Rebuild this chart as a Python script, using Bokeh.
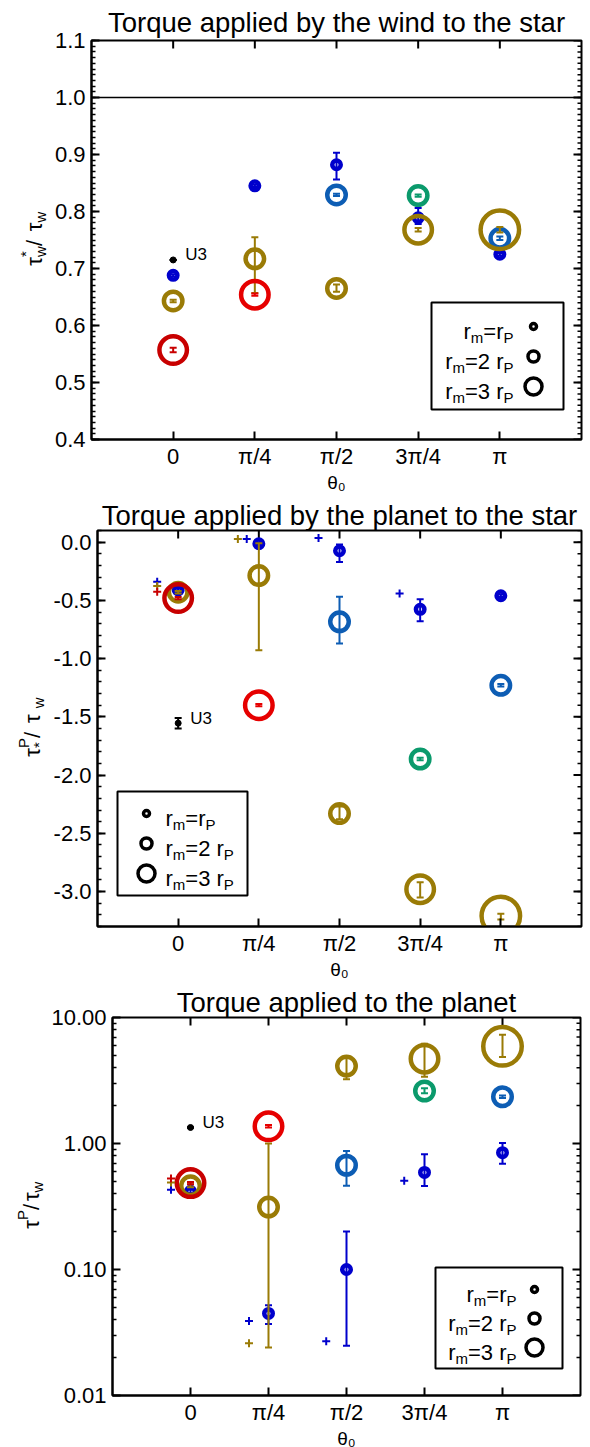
import math
from bokeh.plotting import figure
from bokeh.layouts import row
from bokeh.models import (Range1d, FixedTicker, Label, Span, BoxAnnotation, ColumnDataSource)
from bokeh.core.properties import value
from bokeh.embed import file_html
from bokeh.resources import INLINE

PI = math.pi
FONT = "Liberation Sans"

# ---------------------------------------------------------------- data
THETA_STEPS = [0, 1, 2, 3, 4]                 # theta_0 in units of pi/4
THETA_LABELS = ["0", "π/4", "π/2", "3π/4", "π"]
X_LABEL = "θ₀"

# Panel 1 : torque applied by the wind to the star  (tau_w* / tau_w)
WIND_TITLE = "Torque applied by the wind to the star"
WIND_YTICKS = [0.4, 0.5, 0.6, 0.7, 0.8, 0.9, 1.0, 1.1]
WIND_YLABELS = ["0.4", "0.5", "0.6", "0.7", "0.8", "0.9", "1.0", "1.1"]
WIND_REF = 1.0
WIND_DBLUE_K = [0, 1, 2, 3, 4]
WIND_DBLUE_Y = [0.688, 0.845, 0.882, 0.789, 0.725]
WIND_DBLUE_LO = [0.686, 0.843, 0.856, 0.778, 0.723]
WIND_DBLUE_HI = [0.690, 0.847, 0.903, 0.806, 0.727]
WIND_MBLUE_K = [2, 4]
WIND_MBLUE_Y = [0.829, 0.753]
WIND_MBLUE_LO = [0.827, 0.750]
WIND_MBLUE_HI = [0.831, 0.756]
WIND_GREEN_K = [3]
WIND_GREEN_Y = [0.828]
WIND_GREEN_LO = [0.826]
WIND_GREEN_HI = [0.830]
WIND_OLIVE2_K = [0, 1, 2]
WIND_OLIVE2_Y = [0.643, 0.717, 0.665]
WIND_OLIVE2_LO = [0.641, 0.657, 0.659]
WIND_OLIVE2_HI = [0.645, 0.755, 0.672]
WIND_OLIVE3_K = [3]
WIND_OLIVE3_Y = [0.768]
WIND_OLIVE3_LO = [0.765]
WIND_OLIVE3_HI = [0.771]
WIND_OLIVE4_K = [4]
WIND_OLIVE4_Y = [0.768]
WIND_OLIVE4_LO = [0.763]
WIND_OLIVE4_HI = [0.773]
WIND_DRED_K = [0]
WIND_DRED_Y = [0.557]
WIND_DRED_LO = [0.553]
WIND_DRED_HI = [0.561]
WIND_RED_K = [1]
WIND_RED_Y = [0.654]
WIND_RED_LO = [0.652]
WIND_RED_HI = [0.656]
WIND_U3_K = [0]
WIND_U3_Y = [0.715]
WIND_U3_LO = [0.715]
WIND_U3_HI = [0.715]

# Panel 2 : torque applied by the planet to the star  (tau*^P / tau_w)
STAR_TITLE = "Torque applied by the planet to the star"
STAR_YTICKS = [0.0, -0.5, -1.0, -1.5, -2.0, -2.5, -3.0]
STAR_YLABELS = ["0.0", "-0.5", "-1.0", "-1.5", "-2.0", "-2.5", "-3.0"]
STAR_DBLUE_K = [0, 1, 2, 3, 4]
STAR_DBLUE_Y = [-0.41, -0.014, -0.074, -0.577, -0.46]
STAR_DBLUE_LO = [-0.42, -0.024, -0.17, -0.68, -0.47]
STAR_DBLUE_HI = [-0.40, -0.004, -0.02, -0.49, -0.45]
STAR_MBLUE_K = [2, 4]
STAR_MBLUE_Y = [-0.684, -1.229]
STAR_MBLUE_LO = [-0.87, -1.24]
STAR_MBLUE_HI = [-0.468, -1.218]
STAR_GREEN_K = [3]
STAR_GREEN_Y = [-1.862]
STAR_GREEN_LO = [-1.872]
STAR_GREEN_HI = [-1.852]
STAR_OLIVE2_K = [0, 1, 2]
STAR_OLIVE2_Y = [-0.43, -0.287, -2.33]
STAR_OLIVE2_LO = [-0.44, -0.928, -2.38]
STAR_OLIVE2_HI = [-0.42, -0.01, -2.27]
STAR_OLIVE3_K = [3]
STAR_OLIVE3_Y = [-2.98]
STAR_OLIVE3_LO = [-3.05]
STAR_OLIVE3_HI = [-2.92]
STAR_OLIVE4_K = [4]
STAR_OLIVE4_Y = [-3.21]
STAR_OLIVE4_LO = [-3.24]
STAR_OLIVE4_HI = [-3.19]
STAR_DRED_K = [0]
STAR_DRED_Y = [-0.48]
STAR_DRED_LO = [-0.49]
STAR_DRED_HI = [-0.47]
STAR_RED_K = [1]
STAR_RED_Y = [-1.40]
STAR_RED_LO = [-1.41]
STAR_RED_HI = [-1.39]
STAR_U3_K = [0]
STAR_U3_Y = [-1.554]
STAR_U3_LO = [-1.60]
STAR_U3_HI = [-1.51]
# runs drawn without a circle (theta in units of pi/4)
STAR_XB_K = [-0.26, 0.85, 1.74, 2.745]
STAR_XB_Y = [-0.34, 0.026, 0.035, -0.44]
STAR_XO_K = [-0.26, 0.74]
STAR_XO_Y = [-0.376, 0.026]
STAR_XR_K = [-0.26]
STAR_XR_Y = [-0.425]

# Panel 3 : torque applied to the planet  (tau^P / tau_w, log)
PLAN_TITLE = "Torque applied to the planet"
PLAN_YTICKS = [0.01, 0.1, 1.0, 10.0]
PLAN_YLABELS = ["0.01", "0.10", "1.00", "10.00"]
PLAN_DBLUE_K = [0, 1, 2, 3, 4]
PLAN_DBLUE_Y = [0.417, 0.0448, 0.10, 0.589, 0.845]
PLAN_DBLUE_LO = [0.405, 0.037, 0.0248, 0.46, 0.69]
PLAN_DBLUE_HI = [0.43, 0.052, 0.20, 0.82, 1.01]
PLAN_MBLUE_K = [2, 4]
PLAN_MBLUE_Y = [0.672, 2.35]
PLAN_MBLUE_LO = [0.462, 2.30]
PLAN_MBLUE_HI = [0.87, 2.40]
PLAN_GREEN_K = [3]
PLAN_GREEN_Y = [2.61]
PLAN_GREEN_LO = [2.50]
PLAN_GREEN_HI = [2.75]
PLAN_OLIVE2_K = [0, 1, 2]
PLAN_OLIVE2_Y = [0.462, 0.313, 4.12]
PLAN_OLIVE2_LO = [0.45, 0.024, 3.24]
PLAN_OLIVE2_HI = [0.475, 1.0, 4.84]
PLAN_OLIVE3_K = [3]
PLAN_OLIVE3_Y = [4.71]
PLAN_OLIVE3_LO = [3.38]
PLAN_OLIVE3_HI = [6.18]
PLAN_OLIVE4_K = [4]
PLAN_OLIVE4_Y = [5.9]
PLAN_OLIVE4_LO = [4.85]
PLAN_OLIVE4_HI = [7.3]
PLAN_DRED_K = [0]
PLAN_DRED_Y = [0.485]
PLAN_DRED_LO = [0.475]
PLAN_DRED_HI = [0.495]
PLAN_RED_K = [1]
PLAN_RED_Y = [1.37]
PLAN_RED_LO = [1.34]
PLAN_RED_HI = [1.40]
PLAN_U3_K = [0]
PLAN_U3_Y = [1.34]
PLAN_U3_LO = [1.34]
PLAN_U3_HI = [1.34]
PLAN_XB_K = [-0.25, 0.75, 1.74, 2.74]
PLAN_XB_Y = [0.43, 0.039, 0.027, 0.506]
PLAN_XO_K = [-0.25, 0.75]
PLAN_XO_Y = [0.49, 0.026]
PLAN_XR_K = [-0.25]
PLAN_XR_Y = [0.528]

# ---------------------------------------------------------------- styles
COLORS = {"dblue": "#0000CC", "mblue": "#0D5DB4", "green": "#0B9A6C",
          "olive": "#9A7B06", "dred": "#C80000", "red": "#E60000", "black": "#000000"}
RING = {"s": 8.5, "m": 18.5, "l": 27.5, "xl": 38.5}
RING_LW = 4.5
LEG_RING = [6, 11, 17]
LEGEND_ROWS = [[("r", "n"), ("m", "sub"), ("=r", "n"), ("P", "sub")],
               [("r", "n"), ("m", "sub"), ("=2 r", "n"), ("P", "sub")],
               [("r", "n"), ("m", "sub"), ("=3 r", "n"), ("P", "sub")]]

EM = {'r': .333, 'm': .833, '=': .584, 'P': .667, '2': .556, '3': .556, ' ': .278,
      'τ': .52, 'w': .722, '/': .278, '*': .389, 'θ': .556, '0': .556}
MAIN = 22
SUB = 15
TITLE_SIZE = "27.5px"


def tw(s, size):
    return sum(EM.get(c, .55) for c in s) * size


class Frame:
    def __init__(self, fw, fh, xr, yr, log):
        self.fw, self.fh, self.xr, self.yr, self.log = fw, fh, xr, yr, log

    def dx(self, px):
        return self.xr[0] + px / self.fw * (self.xr[1] - self.xr[0])

    def dy(self, py):
        if self.log:
            a, b = math.log10(self.yr[0]), math.log10(self.yr[1])
            return 10 ** (b - py / self.fh * (b - a))
        return self.yr[1] - py / self.fh * (self.yr[1] - self.yr[0])

    def px(self, x):
        return (x - self.xr[0]) / (self.xr[1] - self.xr[0]) * self.fw

    def py(self, y):
        if self.log:
            a, b = math.log10(self.yr[0]), math.log10(self.yr[1])
            return (b - math.log10(y)) / (b - a) * self.fh
        return (self.yr[1] - y) / (self.yr[1] - self.yr[0]) * self.fh


def lab(p, fr, px, py, text, size, align="left", baseline="alphabetic"):
    """Text inside the frame, in pixels relative to the frame (px right, py down)."""
    p.add_layout(Label(x=px, y=fr.fh - py, x_units="screen", y_units="screen", text=text,
                       text_font=FONT, text_font_size=f"{size}px",
                       text_align=align, text_baseline=baseline, text_color="black"))


def rich_h(p, fr, px, py, pieces):
    cur = 0.0
    for text, kind in pieces:
        size = MAIN if kind == "n" else SUB
        shift = 0 if kind == "n" else (6 if kind == "sub" else -9)
        lab(p, fr, px + cur, py + shift, text, size)
        cur += tw(text, size)


def rich_width(pieces):
    return sum(tw(t, MAIN if k == "n" else SUB) for t, k in pieces)


def ylabel_strip(width, fh, top, bottom, bx, pieces):
    """Narrow figure left of a panel carrying its rotated y-axis title
    (pieces anchored at their end so that they read bottom-to-top)."""
    s = figure(frame_width=width, frame_height=fh, x_range=Range1d(0, width),
               y_range=Range1d(0, fh), output_backend="svg", toolbar_location=None,
               x_axis_location=None, y_axis_location=None, min_border_left=0,
               min_border_right=0, min_border_top=top, min_border_bottom=bottom)
    s.grid.visible = False
    s.outline_line_color = None
    total = 0.0
    adv_w = 0.0
    for text, kind, adv in pieces:
        adv_w = max(adv_w, tw(text, MAIN if kind == "n" else SUB))
        if adv:
            total += adv_w
            adv_w = 0.0
    xs, ys, ts, szs = [], [], [], []
    cur = fh / 2 - total / 2
    adv_w = 0.0
    for text, kind, adv in pieces:
        size = MAIN if kind == "n" else SUB
        shift = 0 if kind == "n" else (6 if kind == "sub" else -9)
        w = tw(text, size)
        xs.append(bx + shift)
        ys.append(cur + w)
        ts.append(text)
        szs.append(f"{size}px")
        adv_w = max(adv_w, w)
        if adv:
            cur += adv_w
            adv_w = 0.0
    src = ColumnDataSource(dict(x=xs, y=ys, t=ts, fs=szs))
    s.text(x="x", y="y", text="t", source=src, angle=PI / 2, text_font=value(FONT),
           text_font_size="fs", text_align="right", text_baseline="alphabetic",
           text_color="black")
    return s


def style_axis(ax, standoff):
    ax.axis_line_width = 2
    ax.axis_line_color = "black"
    ax.major_tick_in = 8
    ax.major_tick_out = 0
    ax.minor_tick_in = 4
    ax.minor_tick_out = 0
    ax.major_tick_line_width = 2
    ax.minor_tick_line_width = 1.5
    ax.major_label_text_font = FONT
    ax.major_label_text_color = "black"
    ax.major_label_text_font_size = f"{MAIN}px"
    ax.major_label_standoff = standoff


def build(title, fw, fh, yr, log, left, top, bottom, standoff, yticks, ylabels, yminor):
    xr = (-PI / 4, 5 * PI / 4)
    p = figure(frame_width=fw, frame_height=fh, x_range=Range1d(*xr), y_range=Range1d(*yr),
               y_axis_type="log" if log else "linear", output_backend="svg",
               toolbar_location=None, min_border_left=left, min_border_right=4,
               min_border_top=top, min_border_bottom=bottom)
    p.title.text = title
    p.title.text_font = FONT
    p.title.text_font_size = TITLE_SIZE
    p.title.text_font_style = "normal"
    p.title.text_color = "black"
    p.title.align = "center"
    p.title.standoff = standoff
    p.grid.visible = False
    p.outline_line_color = "black"
    p.outline_line_width = 2
    p.outline_line_alpha = 1.0
    xt = [k * PI / 4 for k in THETA_STEPS]
    xticker = FixedTicker(ticks=xt, minor_ticks=[])
    yticker = FixedTicker(ticks=yticks, minor_ticks=yminor)
    for ax in p.xaxis:
        ax.ticker = xticker
        ax.major_label_overrides = {t: l for t, l in zip(xt, THETA_LABELS)}
        style_axis(ax, 4)
        ax.axis_label = X_LABEL
        ax.axis_label_text_font = FONT
        ax.axis_label_text_font_size = "19px"
        ax.axis_label_text_font_style = "normal"
        ax.axis_label_text_color = "black"
        ax.axis_label_standoff = 0
    for ax in p.yaxis:
        ax.ticker = yticker
        ax.major_label_overrides = {t: l for t, l in zip(yticks, ylabels)}
        style_axis(ax, 6)
    fr = Frame(fw, fh, xr, yr, log)
    # mirrored inward ticks on the top and right edges of the frame
    n = len(xt)
    p.segment(x0=xt, y0=[yr[1]] * n, x1=xt, y1=[fr.dy(8)] * n, line_color="black", line_width=2)
    m = len(yticks)
    p.segment(x0=[xr[1]] * m, y0=yticks, x1=[fr.dx(fw - 8)] * m, y1=yticks,
              line_color="black", line_width=2)
    q = len(yminor)
    p.segment(x0=[xr[1]] * q, y0=yminor, x1=[fr.dx(fw - 4)] * q, y1=yminor,
              line_color="black", line_width=1.5)
    return p, fr


def draw_series(p, K, Y, LO, HI, cname, cls):
    c = COLORS[cname]
    x = [k * PI / 4 for k in K]
    src = ColumnDataSource(dict(x=x, y=Y, lo=LO, hi=HI))
    p.segment(x0="x", y0="lo", x1="x", y1="hi", source=src, line_color=c, line_width=2)
    p.scatter("x", "lo", source=src, marker="dash", size=7, line_color=c, line_width=2)
    p.scatter("x", "hi", source=src, marker="dash", size=7, line_color=c, line_width=2)
    if cls == "dot":
        p.scatter("x", "y", source=src, marker="circle", size=6, fill_color=c, line_color=c)
    else:
        p.scatter("x", "y", source=src, marker="circle", size=RING[cls], fill_color=None,
                  line_color=c, line_width=RING_LW)


def draw_ticks(p, K, Y, cname):
    x = [k * PI / 4 for k in K]
    p.scatter(x=x, y=Y, marker="cross", size=8, line_color=COLORS[cname], line_width=2)


def u3_label(p, fr, K, Y):
    lab(p, fr, fr.px(K[0] * PI / 4) + 12, fr.py(Y[0]) - 5, "U3", 17, baseline="middle")


def legend(p, fr, box, mx, rows, tx, right_aligned):
    p.add_layout(BoxAnnotation(left=fr.dx(box[0]), right=fr.dx(box[1]),
                               top=fr.dy(box[2]), bottom=fr.dy(box[3]),
                               fill_color=None, fill_alpha=0, line_color="black",
                               line_alpha=1.0, line_width=2))
    p.scatter(x=[fr.dx(mx)] * 3, y=[fr.dy(r) for r in rows], size=LEG_RING, marker="circle",
              fill_color=None, line_color="black", line_width=3.5)
    for ry, pieces in zip(rows, LEGEND_ROWS):
        start = tx - rich_width(pieces) if right_aligned else tx
        rich_h(p, fr, start, ry + 5, pieces)


# ---------------------------------------------------------------- panel 1
wind_minor = [round(0.4 + i * 0.01, 3) for i in range(71)]
p1, f1 = build(WIND_TITLE, 490, 399, (0.4, 1.1), False, 37, 40, 54, 5,
               WIND_YTICKS, WIND_YLABELS, wind_minor)
p1.add_layout(Span(location=WIND_REF, dimension="width", line_color="black", line_width=1.5))
for args in [(WIND_DBLUE_K, WIND_DBLUE_Y, WIND_DBLUE_LO, WIND_DBLUE_HI, "dblue", "s"),
             (WIND_MBLUE_K, WIND_MBLUE_Y, WIND_MBLUE_LO, WIND_MBLUE_HI, "mblue", "m"),
             (WIND_GREEN_K, WIND_GREEN_Y, WIND_GREEN_LO, WIND_GREEN_HI, "green", "m"),
             (WIND_OLIVE2_K, WIND_OLIVE2_Y, WIND_OLIVE2_LO, WIND_OLIVE2_HI, "olive", "m"),
             (WIND_OLIVE3_K, WIND_OLIVE3_Y, WIND_OLIVE3_LO, WIND_OLIVE3_HI, "olive", "l"),
             (WIND_OLIVE4_K, WIND_OLIVE4_Y, WIND_OLIVE4_LO, WIND_OLIVE4_HI, "olive", "xl"),
             (WIND_DRED_K, WIND_DRED_Y, WIND_DRED_LO, WIND_DRED_HI, "dred", "l"),
             (WIND_RED_K, WIND_RED_Y, WIND_RED_LO, WIND_RED_HI, "red", "l"),
             (WIND_U3_K, WIND_U3_Y, WIND_U3_LO, WIND_U3_HI, "black", "dot")]:
    draw_series(p1, *args)
u3_label(p1, f1, WIND_U3_K, WIND_U3_Y)
legend(p1, f1, (340, 472, 262, 369), 442, [286, 316, 346], 422, True)
s1 = ylabel_strip(51, 399, 40, 54, 34,
                  [("τ", "n", True), ("*", "sup", False), ("w", "sub", True),
                   (" /", "n", True), ("τ", "n", True), ("w", "sub", True)])

# ---------------------------------------------------------------- panel 2
star_minor = [round(0.1 - i * 0.1, 3) for i in range(35)]
p2, f2 = build(STAR_TITLE, 484, 396, (-3.3, 0.1), False, 45, 35, 54, 0,
               STAR_YTICKS, STAR_YLABELS, star_minor)
for args in [(STAR_DBLUE_K, STAR_DBLUE_Y, STAR_DBLUE_LO, STAR_DBLUE_HI, "dblue", "s"),
             (STAR_MBLUE_K, STAR_MBLUE_Y, STAR_MBLUE_LO, STAR_MBLUE_HI, "mblue", "m"),
             (STAR_GREEN_K, STAR_GREEN_Y, STAR_GREEN_LO, STAR_GREEN_HI, "green", "m"),
             (STAR_OLIVE2_K, STAR_OLIVE2_Y, STAR_OLIVE2_LO, STAR_OLIVE2_HI, "olive", "m"),
             (STAR_OLIVE3_K, STAR_OLIVE3_Y, STAR_OLIVE3_LO, STAR_OLIVE3_HI, "olive", "l"),
             (STAR_OLIVE4_K, STAR_OLIVE4_Y, STAR_OLIVE4_LO, STAR_OLIVE4_HI, "olive", "xl"),
             (STAR_DRED_K, STAR_DRED_Y, STAR_DRED_LO, STAR_DRED_HI, "dred", "l"),
             (STAR_RED_K, STAR_RED_Y, STAR_RED_LO, STAR_RED_HI, "red", "l"),
             (STAR_U3_K, STAR_U3_Y, STAR_U3_LO, STAR_U3_HI, "black", "dot")]:
    draw_series(p2, *args)
draw_ticks(p2, STAR_XB_K, STAR_XB_Y, "dblue")
draw_ticks(p2, STAR_XO_K, STAR_XO_Y, "olive")
draw_ticks(p2, STAR_XR_K, STAR_XR_Y, "dred")
u3_label(p2, f2, STAR_U3_K, STAR_U3_Y)
legend(p2, f2, (20, 150, 261, 365), 49, [283, 313, 343], 68, False)
s2 = ylabel_strip(50, 396, 35, 54, 32,
                  [("τ", "n", True), ("P", "sup", False), ("*", "sub", True),
                   (" /", "n", True), (" τ", "n", True), ("w", "sub", True)])

# ---------------------------------------------------------------- panel 3
plan_minor = [m * 10 ** e for e in (-2, -1, 0) for m in range(2, 10)]
p3, f3 = build(PLAN_TITLE, 468, 378, (0.01, 10.0), True, 62, 35, 54, 0,
               PLAN_YTICKS, PLAN_YLABELS, plan_minor)
for args in [(PLAN_DBLUE_K, PLAN_DBLUE_Y, PLAN_DBLUE_LO, PLAN_DBLUE_HI, "dblue", "s"),
             (PLAN_MBLUE_K, PLAN_MBLUE_Y, PLAN_MBLUE_LO, PLAN_MBLUE_HI, "mblue", "m"),
             (PLAN_GREEN_K, PLAN_GREEN_Y, PLAN_GREEN_LO, PLAN_GREEN_HI, "green", "m"),
             (PLAN_OLIVE2_K, PLAN_OLIVE2_Y, PLAN_OLIVE2_LO, PLAN_OLIVE2_HI, "olive", "m"),
             (PLAN_OLIVE3_K, PLAN_OLIVE3_Y, PLAN_OLIVE3_LO, PLAN_OLIVE3_HI, "olive", "l"),
             (PLAN_OLIVE4_K, PLAN_OLIVE4_Y, PLAN_OLIVE4_LO, PLAN_OLIVE4_HI, "olive", "xl"),
             (PLAN_DRED_K, PLAN_DRED_Y, PLAN_DRED_LO, PLAN_DRED_HI, "dred", "l"),
             (PLAN_RED_K, PLAN_RED_Y, PLAN_RED_LO, PLAN_RED_HI, "red", "l"),
             (PLAN_U3_K, PLAN_U3_Y, PLAN_U3_LO, PLAN_U3_HI, "black", "dot")]:
    draw_series(p3, *args)
draw_ticks(p3, PLAN_XB_K, PLAN_XB_Y, "dblue")
draw_ticks(p3, PLAN_XO_K, PLAN_XO_Y, "olive")
draw_ticks(p3, PLAN_XR_K, PLAN_XR_Y, "dred")
u3_label(p3, f3, PLAN_U3_K, PLAN_U3_Y)
legend(p3, f3, (323, 450, 250, 351), 422, [272, 301, 330], 404, True)
s3 = ylabel_strip(48, 378, 35, 54, 31,
                  [("τ", "n", True), ("P", "sup", True), ("/", "n", True),
                   ("τ", "n", True), ("w", "sub", True)])

roots = [row(s1, p1, spacing=0), row(s2, p2, spacing=0), row(s3, p3, spacing=0)]
open("out.html", "w").write(file_html(roots, INLINE, "Torques"))
